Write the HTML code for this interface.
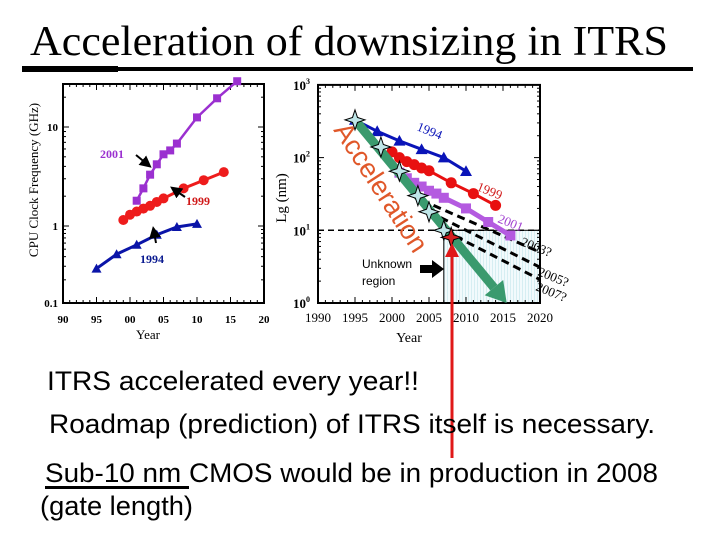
<!DOCTYPE html>
<html><head><meta charset="utf-8"><style>
html,body{margin:0;padding:0;background:#fff;}
svg{display:block;}
.ser{font-family:"Liberation Serif",serif;font-weight:bold;}
</style></head><body>
<svg id="slide" width="720" height="540" viewBox="0 0 720 540" xmlns="http://www.w3.org/2000/svg">
<defs>
<marker id="ah" markerWidth="6" markerHeight="6" refX="3" refY="3" orient="auto"><path d="M0,0 L6,3 L0,6 z" fill="#000"/></marker>
<pattern id="dots" width="3" height="3" patternUnits="userSpaceOnUse"><rect width="3" height="3" fill="#f2fafc"/><rect width="1" height="3" fill="#d6eef2"/></pattern>
</defs>
<text x="30" y="55" font-family="Liberation Serif, serif" font-size="42" textLength="638" lengthAdjust="spacingAndGlyphs">Acceleration of downsizing in ITRS</text>
<rect x="22" y="67" width="671" height="4" fill="#000"/>
<rect x="22" y="66" width="96" height="6" fill="#000"/>
<g id="left"></g>
<g id="right"></g>
<g id="texts">
<text x="47" y="390" font-family="Liberation Sans, sans-serif" font-size="27" textLength="372" lengthAdjust="spacingAndGlyphs">ITRS accelerated every year!!</text>
<text x="49" y="433" font-family="Liberation Sans, sans-serif" font-size="27" textLength="606" lengthAdjust="spacingAndGlyphs">Roadmap (prediction) of ITRS itself is necessary.</text>
<text x="45" y="482" font-family="Liberation Sans, sans-serif" font-size="27" textLength="613" lengthAdjust="spacingAndGlyphs">Sub-10 nm CMOS would be in production in 2008</text>
<rect x="45" y="486" width="144" height="3" fill="#000"/>
<text x="40" y="515" font-family="Liberation Sans, sans-serif" font-size="27" textLength="153" lengthAdjust="spacingAndGlyphs">(gate length)</text>
</g>
</svg>
<script>
const NS='http://www.w3.org/2000/svg';
function mk(p,tag,at,txt){const e=document.createElementNS(NS,tag);for(const k in at)e.setAttribute(k,at[k]);if(txt!==undefined)e.textContent=txt;p.appendChild(e);return e;}
// ---------- Left chart data ----------
const fYears2001=[2001,2002,2003,2004,2005,2006,2007,2010,2013,2016];
const fVals2001=[1.8,2.4,3.3,4.2,5.3,5.8,6.8,12.5,19.5,29];
const fYears1999=[1999,2000,2001,2002,2003,2004,2005,2008,2011,2014];
const fVals1999=[1.15,1.3,1.4,1.5,1.6,1.75,1.9,2.4,2.9,3.5];
const fYears1994=[1995,1998,2001,2004,2007,2010];
const fVals1994=[0.28,0.43,0.57,0.77,0.97,1.05];
const fXTicks=[1990,1995,2000,2005,2010,2015,2020];
const fXTickLabels=['90','95','00','05','10','15','20'];
const fYTicks=[0.1,1,10];
const fYTickLabels=['0.1','1','10'];
// ---------- Right chart data ----------
const gYears1994=[1995,1998,2001,2004,2007,2010];
const gVals1994=[330,230,170,130,100,65];
const gYears1999=[2000,2001,2002,2003,2004,2005,2008,2011,2014];
const gVals1999=[120,100,88,80,72,66,45,32,22];
const gYears2001=[2001,2002,2003,2004,2005,2006,2007,2010,2013,2016];
const gVals2001=[62,52,45,40,35,32,28,20,13,8.5];
const starYears=[1995,1998.5,2001,2003.5,2005,2007];
const starVals=[330,140,65,30,18,10];
const redStarYear=2008, redStarVal=8;
const accelStart=[1995,330], accelEnd=[2015.5,1.0];
const dashStartYears=[2004,2005,2007];
const dashStartVals=[26,18,10];
const dashEndVals=[5,3.1,2.1];
const gXTicks=[1990,1995,2000,2005,2010,2015,2020];
const gYTicks=[1,10,100,1000];
const gYExp=['0','1','2','3'];

// left axes (bottom decade is compressed in the original)
const L={x0:63,x1:264,y0:303,y1:226,decUp:99,decLow:77};
const lx=y=>L.x0+(y-1990)/30*(L.x1-L.x0);
const ly=v=>{const l=Math.log10(v);return L.y1-(l>=0?L.decUp:L.decLow)*l;};
const lg=document.getElementById('left');
mk(lg,'rect',{x:L.x0,y:84,width:L.x1-L.x0,height:L.y0-84,fill:'none',stroke:'#000','stroke-width':2,});
fXTicks.forEach((t,i)=>{const x=lx(t);
  const e=mk(lg,'text',{x:x,y:323,'font-size':11,'text-anchor':'middle',class:'ser'},fXTickLabels[i]);
  
  for(let k=0;k<5&&t<2020;k++){const xx=lx(t+k);mk(lg,'line',{x1:xx,x2:xx,y1:L.y0,y2:L.y0-(k?3:6),stroke:'#000'});mk(lg,'line',{x1:xx,x2:xx,y1:84,y2:84+(k?3:6),stroke:'#000'});}
});
fYTicks.forEach((t,i)=>{const y=ly(t);
  const e=mk(lg,'text',{x:L.x0-5,y:y+4,'font-size':11,'text-anchor':'end',class:'ser'},fYTickLabels[i]);
  
  for(let m=1;m<10;m++){const yy=ly(t*m);if(yy<84)break;mk(lg,'line',{x1:L.x0,x2:L.x0+(m==1?6:3),y1:yy,y2:yy,stroke:'#000'});mk(lg,'line',{x1:L.x1,x2:L.x1-(m==1?6:3),y1:yy,y2:yy,stroke:'#000'});}
});
let t=mk(lg,'text',{x:148,y:339,'font-size':13,'text-anchor':'middle','font-family':'Liberation Serif, serif'},'Year');

t=mk(lg,'text',{x:0,y:0,'font-size':13,'text-anchor':'middle','font-family':'Liberation Serif, serif',transform:'translate(38,180) rotate(-90)'},'CPU Clock Frequency  (GHz)');

function series(g,xs,vs,fx,fy,col,shape,name,sz,w){
  const pl=mk(g,'polyline',{points:xs.map((x,i)=>fx(x)+','+fy(vs[i])).join(' '),fill:'none',stroke:col,'stroke-width':w});
  
  xs.forEach((x,i)=>{const cx=fx(x),cy=fy(vs[i]);let m;
    if(shape=='sq')m=mk(g,'rect',{x:cx-sz,y:cy-sz,width:2*sz,height:2*sz,fill:col});
    else if(shape=='ci')m=mk(g,'circle',{cx:cx,cy:cy,r:sz,fill:col});
    else m=mk(g,'path',{d:`M${cx-sz},${cy+sz*0.8} L${cx+sz},${cy+sz*0.8} L${cx},${cy-sz} z`,fill:col});
    });
}
series(lg,fYears2001,fVals2001,lx,ly,'#9b30d0','sq','freq-2001',4,2.5);
series(lg,fYears1999,fVals1999,lx,ly,'#ee1c1c','ci',  'freq-1999',5,3);
series(lg,fYears1994,fVals1994,lx,ly,'#0a14a8','tri','freq-1994',5,3);
[['2001',100,158,'#9b30d0'],['1999',186,205,'#d01818'],['1994',140,263,'#0a1a90']].forEach(a=>{const e=mk(lg,'text',{x:a[1],y:a[2],'font-size':12,class:'ser',fill:a[3]},a[0]);});
[[136,155,147,164],[185,197,175,190],[156,243,154,232]].forEach(a=>{const e=mk(lg,'line',{x1:a[0],y1:a[1],x2:a[2],y2:a[3],stroke:'#000','stroke-width':2,'marker-end':'url(#ah)'});});

// right axes
const R={x0:318,x1:540,y0:303,decade:72.7};
const rx=y=>R.x0+(y-1990)/30*(R.x1-R.x0);
const ry=v=>R.y0-R.decade*Math.log10(v);
const rg=document.getElementById('right');
let sh=mk(rg,'rect',{x:rx(2007),y:ry(10),width:rx(2020)-rx(2007),height:ry(1)-ry(10),fill:'url(#dots)',stroke:'#000','stroke-width':1});

mk(rg,'rect',{x:R.x0,y:ry(1000),width:R.x1-R.x0,height:R.y0-ry(1000),fill:'none',stroke:'#000','stroke-width':2,});
gXTicks.forEach(tk=>{const x=rx(tk);
  const e=mk(rg,'text',{x:x,y:322,'font-size':13,'text-anchor':'middle','font-family':'Liberation Serif, serif'},String(tk));
  
  for(let k=0;k<5&&tk<2020;k++){const xx=rx(tk+k);mk(rg,'line',{x1:xx,x2:xx,y1:R.y0,y2:R.y0-(k?3:6),stroke:'#000'});mk(rg,'line',{x1:xx,x2:xx,y1:ry(1000),y2:ry(1000)+(k?3:6),stroke:'#000'});}
});
gYTicks.forEach((tk,i)=>{const y=ry(tk);
  const e=mk(rg,'text',{x:R.x0-8,y:y+5,'font-size':13,'text-anchor':'end',class:'ser'});
  
  e.appendChild(document.createTextNode('10'));const s=mk(e,'tspan',{dy:-6,'font-size':8},gYExp[i]);
  for(let m=1;m<10&&tk<1000;m++){const yy=ry(tk*m);mk(rg,'line',{x1:R.x0,x2:R.x0+(m==1?6:3),y1:yy,y2:yy,stroke:'#000'});mk(rg,'line',{x1:R.x1,x2:R.x1-(m==1?6:3),y1:yy,y2:yy,stroke:'#000'});}
});
t=mk(rg,'text',{x:409,y:342,'font-size':14,'text-anchor':'middle','font-family':'Liberation Serif, serif'},'Year');

t=mk(rg,'text',{x:0,y:0,'font-size':15,'text-anchor':'middle','font-family':'Liberation Serif, serif',transform:'translate(286,198) rotate(-90)'},'Lg (nm)');

t=mk(rg,'line',{x1:R.x0,x2:R.x1,y1:ry(10),y2:ry(10),stroke:'#000','stroke-width':1.5,'stroke-dasharray':'6,4'});

dashStartYears.forEach((y,i)=>{const e=mk(rg,'line',{x1:rx(y),y1:ry(dashStartVals[i]),x2:rx(2020),y2:ry(dashEndVals[i]),stroke:'#000','stroke-width':3,'stroke-dasharray':'8,5'});});
series(rg,gYears2001,gVals2001,rx,ry,'#b45ae0','sq','lg-2001',5,5);
series(rg,gYears1999,gVals1999,rx,ry,'#e81010','ci','lg-1999',5.5,3);
series(rg,gYears1994,gVals1994,rx,ry,'#0a14b8','tri','lg-1994',6,3);
const ax1=rx(accelStart[0]),ay1=ry(accelStart[1]),ax2=rx(accelEnd[0]),ay2=ry(accelEnd[1]);
const ang=Math.atan2(ay2-ay1,ax2-ax1),hl=20;
const bx=ax2-hl*Math.cos(ang),by=ay2-hl*Math.sin(ang);
t=mk(rg,'line',{x1:ax1,y1:ay1,x2:bx,y2:by,stroke:'#3a9a6e','stroke-width':9});

const px=-Math.sin(ang)*12,py=Math.cos(ang)*12;
t=mk(rg,'path',{d:`M${ax2},${ay2} L${bx+px},${by+py} L${bx-px},${by-py} z`,fill:'#3a9a6e'});

function star(cx,cy,r,fill,name){let d='';for(let k=0;k<8;k++){const a=k*Math.PI/4-Math.PI/2,rr=k%2?r*0.35:r;d+=(k?'L':'M')+(cx+rr*Math.cos(a))+','+(cy+rr*Math.sin(a));}
  const e=mk(rg,'path',{d:d+'z',fill:fill,stroke:'#000','stroke-width':1});}
starYears.forEach((y,i)=>star(rx(y),ry(starVals[i]),10,'#bfe6e8','itrs-star'));
star(rx(redStarYear),ry(redStarVal),10,'#d42020','itrs-2008-star');
t=mk(rg,'text',{x:0,y:0,'font-size':27,fill:'#e0582a','font-family':'Liberation Sans, sans-serif',transform:'translate(333,130) rotate(57)'},'Acceleration');

[['1994',416,130,22,'#0a14b8'],['1999',476,190,22,'#d01818'],['2001',497,222,22,'#a040d0'],['2003?',520,245,22,'#000'],['2005?',537,275,22,'#000'],['2007?',535,290,22,'#000']].forEach(a=>{const e=mk(rg,'text',{x:0,y:0,'font-size':13,fill:a[4],'font-family':'Liberation Serif, serif',transform:`translate(${a[1]},${a[2]}) rotate(${a[3]})`},a[0]);});
t=mk(rg,'text',{x:362,y:268,'font-size':12,'font-family':'Liberation Sans, sans-serif'},'Unknown');
t=mk(rg,'text',{x:362,y:285,'font-size':12,'font-family':'Liberation Sans, sans-serif'},'region');
t=mk(rg,'path',{d:'M420,265 L432,265 L432,260 L444,269 L432,278 L432,273 L420,273 z',fill:'#000'});
t=mk(rg,'line',{x1:452,y1:458,x2:452,y2:255,stroke:'#e01818','stroke-width':3});
t=mk(rg,'path',{d:'M445,257 L459,257 L452,243 z',fill:'#e01818'});
</script>
</body></html>
